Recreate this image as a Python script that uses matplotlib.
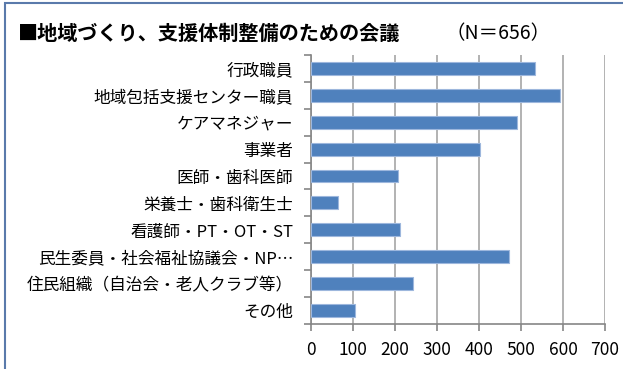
import matplotlib
matplotlib.use("Agg")
import matplotlib.pyplot as plt
from matplotlib.patches import Rectangle

plt.rcParams['font.family'] = ['Noto Sans CJK JP', 'DejaVu Sans']

categories = ["行政職員", "地域包括支援センター職員", "ケアマネジャー", "事業者",
              "医師・歯科医師", "栄養士・歯科衛生士", "看護師・PT・OT・ST",
              "民生委員・社会福祉協議会・NP…", "住民組織（自治会・老人クラブ等）", "その他"]
values = [532, 593, 489, 403, 207, 64, 212, 472, 243, 105]
xticks = [0, 100, 200, 300, 400, 500, 600, 700]

fig = plt.figure(figsize=(6.23, 3.69), dpi=100)
ax = fig.add_axes([0.4997, 0.122, 0.4715, 0.729])

pos = list(range(len(categories)))
ax.barh(pos, values, height=0.48, color="#4F81BD", edgecolor="#9DB7DD",
        linewidth=0.8, zorder=3)
ax.set_ylim(len(categories) - 0.5, -0.5)
ax.set_xlim(0, 700)
ax.set_xticks(xticks)
ax.set_xticklabels([str(t) for t in xticks], fontsize=12.5)
ax.set_yticks(pos)
ax.set_yticklabels(categories, fontsize=12)
ax.set_yticks([p - 0.5 for p in pos] + [len(pos) - 0.5], minor=True)
ax.tick_params(axis="y", which="major", length=0, pad=13)
ax.tick_params(axis="y", which="minor", length=5, color="#868686", width=1.2)
ax.tick_params(axis="x", length=5, color="#868686", width=1.2, pad=7)

ax.grid(axis="x", color="#A6A6A6", linewidth=1.2, zorder=0)
for s in ["top", "right"]:
    ax.spines[s].set_visible(False)
for s in ["left", "bottom"]:
    ax.spines[s].set_color("#868686")
    ax.spines[s].set_linewidth(1.2)

fig.text(0.029, 0.91, "■地域づくり、支援体制整備のための会議", fontsize=14.5,
         fontweight="bold", va="center", ha="left")
fig.text(0.715, 0.91, "（N＝656）", fontsize=14, va="center", ha="left")

fig.patches.append(Rectangle((0.008, -0.05), 1.1, 1.042, transform=fig.transFigure,
                             fill=False, edgecolor="#5A7AAB", linewidth=1.5))

fig.savefig("out.png", dpi=100)
